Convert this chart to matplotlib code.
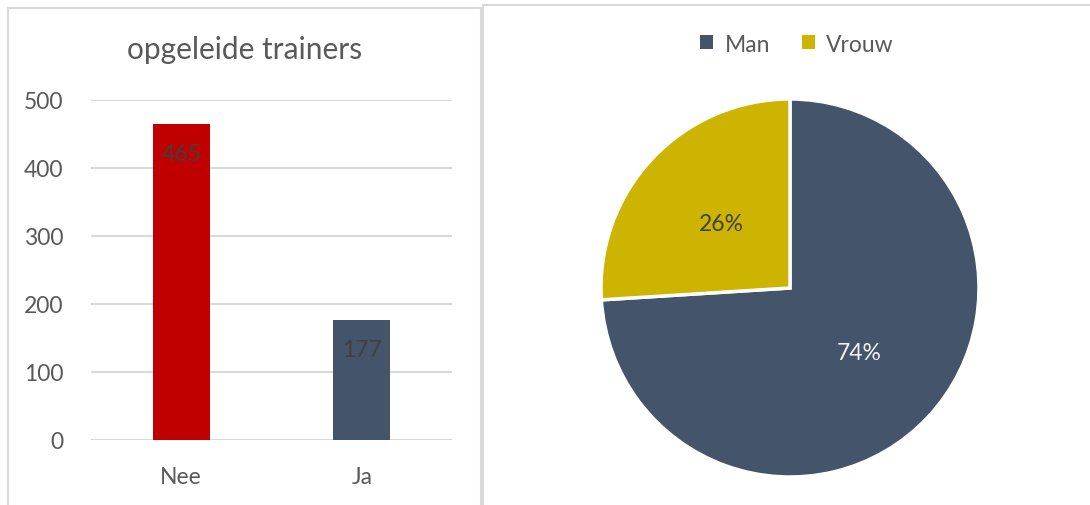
import matplotlib
matplotlib.use("Agg")
import matplotlib.pyplot as plt
from matplotlib.patches import Rectangle, Patch

plt.rcParams['font.family'] = ['Lato', 'DejaVu Sans']

# Data
bar_categories = ["Nee", "Ja"]
bar_values = [465, 177]
bar_colors = ["#C00000", "#44546A"]
bar_title = "opgeleide trainers"
y_ticks = [0, 100, 200, 300, 400, 500]

pie_labels = ["Man", "Vrouw"]
pie_values = [74, 26]
pie_colors = ["#44546A", "#CDB400"]
pie_text_colors = ["#F2F2F2", "#404040"]

W, H = 1090, 506
fig = plt.figure(figsize=(W / 100, H / 100), dpi=100)
fig.patch.set_facecolor("white")

txt = "#595959"
grid = "#D9D9D9"

# panel borders
fig.add_artist(Rectangle((8 / W, -0.05), (481 - 8) / W, 1.05 - 9 / H,
                         transform=fig.transFigure, fill=False,
                         edgecolor=grid, linewidth=1.5))
fig.add_artist(Rectangle((483 / W, -0.05), 0.6, 1.05 - 6 / H,
                         transform=fig.transFigure, fill=False,
                         edgecolor=grid, linewidth=1.5))

# Bar chart
ax = fig.add_axes([91 / W, 1 - 441 / H, (452 - 91) / W, (441 - 101) / H])
x = range(len(bar_categories))
ax.bar(x, bar_values, width=0.316, color=bar_colors, zorder=3)
ax.set_xlim(-0.5, len(bar_categories) - 0.5)
ax.set_ylim(0, 500)
ax.set_yticks(y_ticks)
ax.set_xticks(list(x))
ax.set_xticklabels(bar_categories)
ax.yaxis.grid(True, color=grid, linewidth=1.5, zorder=0)
for s in ax.spines.values():
    s.set_visible(False)
ax.tick_params(axis="both", length=0, labelsize=16.5, colors=txt)
ax.tick_params(axis="y", pad=20)
ax.tick_params(axis="x", pad=19)
for i, v in enumerate(bar_values):
    ax.annotate(str(v), xy=(i, v), xytext=(0, -14), textcoords="offset points",
                ha="center", va="top", fontsize=16.5, color="#404040", zorder=4)
fig.text(245 / W, 1 - 50 / H, bar_title, ha="center", va="center",
         fontsize=21.5, color=txt)

# Pie chart
R = 189
pax = fig.add_axes([(790 - R) / W, 1 - (289 + R) / H, 2 * R / W, 2 * R / H])
wedges, _, autotexts = pax.pie(pie_values, colors=pie_colors, startangle=90,
                               counterclock=False, autopct="%d%%",
                               pctdistance=0.5,
                               wedgeprops=dict(edgecolor="white", linewidth=2.5),
                               textprops=dict(fontsize=16.5))
for t, c in zip(autotexts, pie_text_colors):
    t.set_color(c)
pax.set_xlim(-1.0, 1.0)
pax.set_ylim(-1.0, 1.0)
pax.set_aspect("equal")
pax.axis("off")

handles = [Patch(facecolor=c, edgecolor="none") for c in pie_colors]
fig.legend(handles, pie_labels, loc="center", bbox_to_anchor=(797 / W, 1 - 45 / H),
           ncol=2, frameon=False, fontsize=16.5, labelcolor=txt,
           handlelength=0.55, handleheight=0.55, handletextpad=0.5, columnspacing=1.4)

fig.savefig("out.png", dpi=100, facecolor="white")
